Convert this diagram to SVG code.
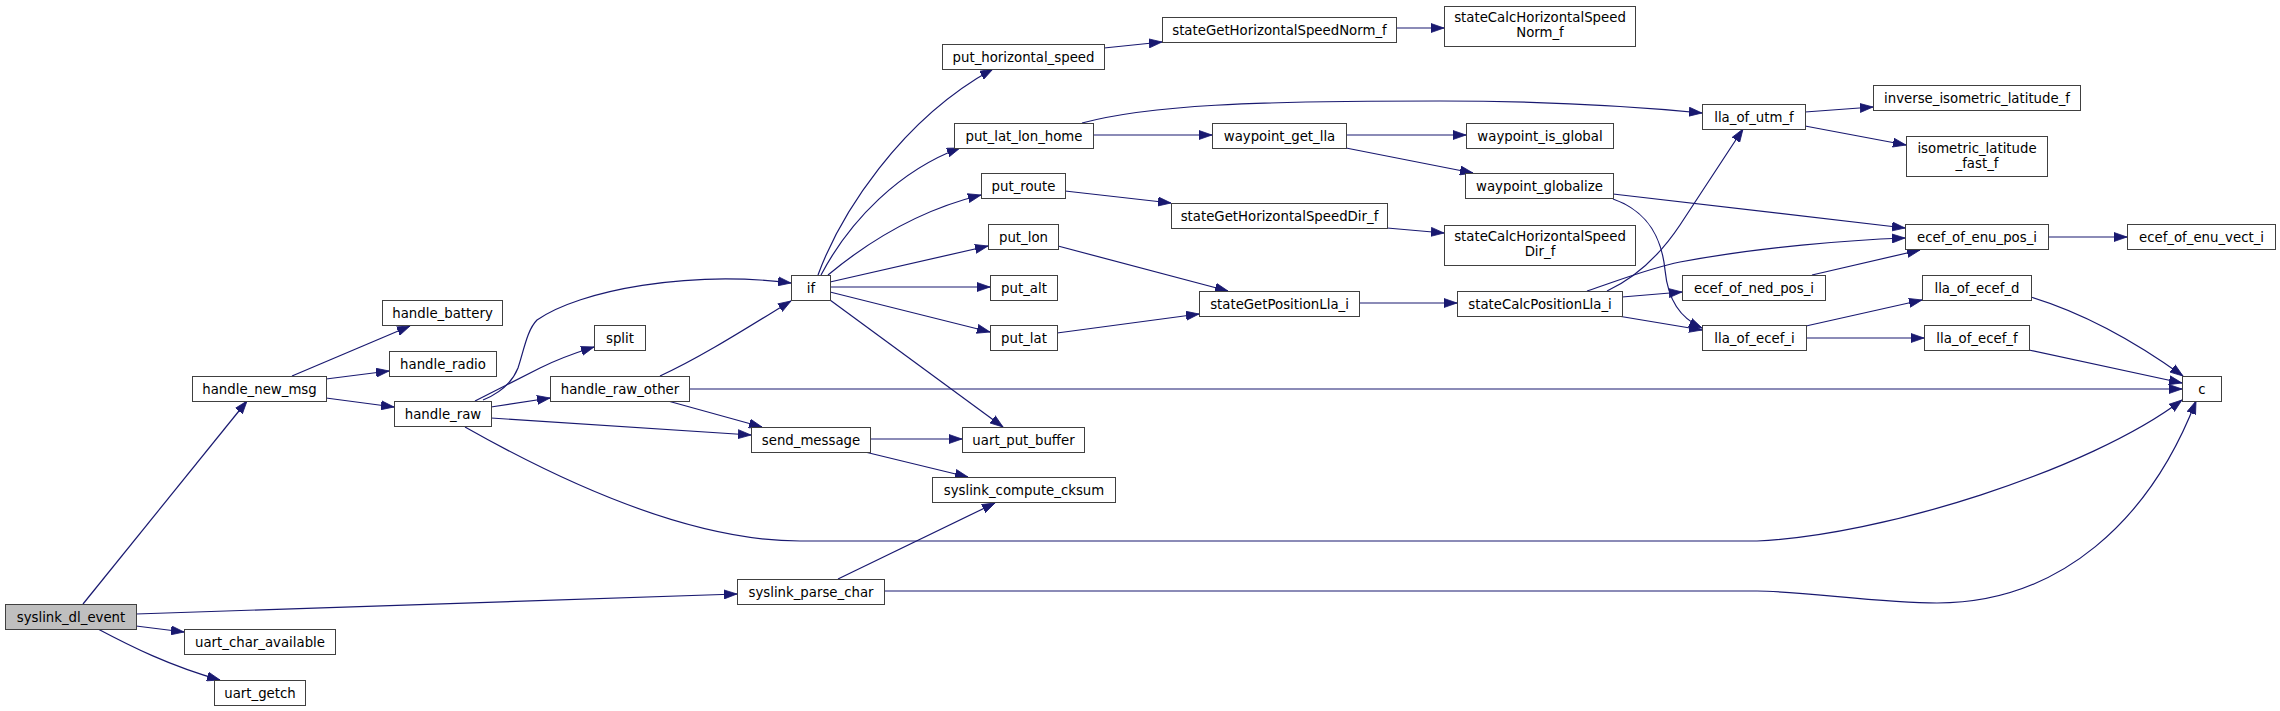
<svg xmlns="http://www.w3.org/2000/svg" width="2280" height="711" viewBox="0 0 2280 711">
<style>
.n rect{fill:#ffffff;stroke:#404040;stroke-width:1}
.n.root rect{fill:#bfbfbf}
.n text{font-family:"DejaVu Sans","Liberation Sans",sans-serif;font-size:13.3px;fill:#000;text-anchor:middle}
.e path{fill:none;stroke:#191970;stroke-width:1.2;marker-end:url(#ah)}
</style>
<defs>
<marker id="ah" markerUnits="userSpaceOnUse" markerWidth="14" markerHeight="10" refX="13" refY="4.5" orient="auto" viewBox="0 0 14 9">
<path d="M0,0 L13,4.5 L0,9 z" fill="#191970" stroke="#191970" stroke-width="0.8"/>
</marker>
</defs>
<rect width="2280" height="711" fill="#ffffff"/>
<g id="edges" class="e">
<path d="M83,604 L247,401"/>
<path d="M136,626 L184,632"/>
<path d="M98,629 C130,646 170,666 220,680"/>
<path d="M136,614 L737,594"/>
<path d="M292,376 L410,326"/>
<path d="M326,379 L389,371"/>
<path d="M326,398 L394,407"/>
<path d="M483,400 C500,393 512,383 518,368 C524,350 527,330 537,320 C580,290 690,270 791,283"/>
<path d="M475,401 C495,391 520,378 540,368 C560,358 578,352 594,347"/>
<path d="M491,407 L550,398"/>
<path d="M491,418 L751,435"/>
<path d="M465,427 C580,492 700,541 800,541 L1757,541 C1880,536 2090,470 2182,400"/>
<path d="M660,376 C700,358 750,326 791,301"/>
<path d="M668,401 L762,427"/>
<path d="M689,389 L2182,389"/>
<path d="M818,275 C840,215 900,120 993,69"/>
<path d="M821,275 C850,220 900,170 960,148"/>
<path d="M828,275 C870,240 920,210 981,195"/>
<path d="M830,282 L988,246"/>
<path d="M830,287 L990,287"/>
<path d="M830,292 L990,332"/>
<path d="M830,300 L1003,427"/>
<path d="M870,439 L962,439"/>
<path d="M865,452 L968,477"/>
<path d="M838,579 L995,503"/>
<path d="M884,591 L1757,591 C1800,591 1880,603 1937,603 C2060,603 2150,520 2196,401"/>
<path d="M1104,48 L1162,42"/>
<path d="M1396,28 L1444,28"/>
<path d="M1082,123 C1150,105 1250,101 1440,101 C1550,101 1640,107 1702,113"/>
<path d="M1093,135 L1212,135"/>
<path d="M1065,191 L1171,203"/>
<path d="M1058,246 L1228,291"/>
<path d="M1057,333 L1199,314"/>
<path d="M1346,135 L1466,135"/>
<path d="M1346,148 L1473,173"/>
<path d="M1387,228 L1444,233"/>
<path d="M1359,303 L1457,303"/>
<path d="M1607,291 C1635,278 1660,255 1680,225 L1743,129"/>
<path d="M1587,291 C1620,280 1650,268 1680,262 C1760,247 1850,240 1905,238"/>
<path d="M1622,297 L1682,292"/>
<path d="M1618,316 L1702,330"/>
<path d="M1613,194 L1905,228"/>
<path d="M1613,199 C1650,212 1662,240 1665,270 C1668,300 1680,318 1702,328"/>
<path d="M1805,112 L1873,107"/>
<path d="M1805,126 L1906,145"/>
<path d="M1812,275 L1920,250"/>
<path d="M1806,326 L1922,300"/>
<path d="M1806,338 L1924,338"/>
<path d="M2048,237 L2127,237"/>
<path d="M2031,297 C2090,315 2140,345 2183,376"/>
<path d="M2029,350 L2182,383"/>
</g>
<g id="syslink_dl_event" class="n root"><rect x="5.5" y="604.5" width="131" height="25"/><text x="71" y="621.5">syslink_dl_event</text></g>
<g id="handle_new_msg" class="n"><rect x="192.5" y="376.5" width="134" height="25"/><text x="259.5" y="393.5">handle_new_msg</text></g>
<g id="handle_battery" class="n"><rect x="382.5" y="300.5" width="120" height="25"/><text x="442.5" y="317.5">handle_battery</text></g>
<g id="handle_radio" class="n"><rect x="389.5" y="351.5" width="107" height="25"/><text x="443" y="368.5">handle_radio</text></g>
<g id="handle_raw" class="n"><rect x="394.5" y="401.5" width="97" height="25"/><text x="443" y="418.5">handle_raw</text></g>
<g id="uart_char_available" class="n"><rect x="184.5" y="629.5" width="151" height="25"/><text x="260" y="646.5">uart_char_available</text></g>
<g id="uart_getch" class="n"><rect x="214.5" y="680.5" width="91" height="25"/><text x="260" y="697.5">uart_getch</text></g>
<g id="split" class="n"><rect x="594.5" y="325.5" width="51" height="25"/><text x="620" y="342.5">split</text></g>
<g id="handle_raw_other" class="n"><rect x="550.5" y="376.5" width="139" height="25"/><text x="620" y="393.5">handle_raw_other</text></g>
<g id="if" class="n"><rect x="791.5" y="275.5" width="39" height="25"/><text x="811" y="292.5">if</text></g>
<g id="send_message" class="n"><rect x="751.5" y="427.5" width="119" height="25"/><text x="811" y="444.5">send_message</text></g>
<g id="syslink_parse_char" class="n"><rect x="737.5" y="579.5" width="147" height="25"/><text x="811" y="596.5">syslink_parse_char</text></g>
<g id="uart_put_buffer" class="n"><rect x="962.5" y="427.5" width="122" height="25"/><text x="1023.5" y="444.5">uart_put_buffer</text></g>
<g id="syslink_compute_cksum" class="n"><rect x="932.5" y="477.5" width="183" height="25"/><text x="1024" y="494.5">syslink_compute_cksum</text></g>
<g id="put_horizontal_speed" class="n"><rect x="942.5" y="44.5" width="162" height="25"/><text x="1023.5" y="61.5">put_horizontal_speed</text></g>
<g id="put_lat_lon_home" class="n"><rect x="954.5" y="123.5" width="139" height="25"/><text x="1024" y="140.5">put_lat_lon_home</text></g>
<g id="put_route" class="n"><rect x="981.5" y="173.5" width="84" height="25"/><text x="1023.5" y="190.5">put_route</text></g>
<g id="put_lon" class="n"><rect x="988.5" y="224.5" width="70" height="25"/><text x="1023.5" y="241.5">put_lon</text></g>
<g id="put_alt" class="n"><rect x="990.5" y="275.5" width="67" height="25"/><text x="1024" y="292.5">put_alt</text></g>
<g id="put_lat" class="n"><rect x="990.5" y="325.5" width="67" height="25"/><text x="1024" y="342.5">put_lat</text></g>
<g id="stateGetHorizontalSpeedNorm_f" class="n"><rect x="1162.5" y="17.5" width="234" height="25"/><text x="1279.5" y="34.5">stateGetHorizontalSpeedNorm_f</text></g>
<g id="waypoint_get_lla" class="n"><rect x="1212.5" y="123.5" width="134" height="25"/><text x="1279.5" y="140.5">waypoint_get_lla</text></g>
<g id="stateGetHorizontalSpeedDir_f" class="n"><rect x="1171.5" y="203.5" width="216" height="25"/><text x="1279.5" y="220.5">stateGetHorizontalSpeedDir_f</text></g>
<g id="stateGetPositionLla_i" class="n"><rect x="1199.5" y="291.5" width="160" height="25"/><text x="1279.5" y="308.5">stateGetPositionLla_i</text></g>
<g id="stateCalcHorizontalSpeedNorm_f" class="n"><rect x="1444.5" y="6.5" width="191" height="40"/><text x="1540" y="22">stateCalcHorizontalSpeed</text><text x="1540" y="37">Norm_f</text></g>
<g id="waypoint_is_global" class="n"><rect x="1466.5" y="123.5" width="147" height="25"/><text x="1540" y="140.5">waypoint_is_global</text></g>
<g id="waypoint_globalize" class="n"><rect x="1465.5" y="173.5" width="148" height="25"/><text x="1539.5" y="190.5">waypoint_globalize</text></g>
<g id="stateCalcHorizontalSpeedDir_f" class="n"><rect x="1444.5" y="225.5" width="191" height="40"/><text x="1540" y="241">stateCalcHorizontalSpeed</text><text x="1540" y="256">Dir_f</text></g>
<g id="stateCalcPositionLla_i" class="n"><rect x="1457.5" y="291.5" width="165" height="25"/><text x="1540" y="308.5">stateCalcPositionLla_i</text></g>
<g id="lla_of_utm_f" class="n"><rect x="1702.5" y="104.5" width="103" height="25"/><text x="1754" y="121.5">lla_of_utm_f</text></g>
<g id="ecef_of_ned_pos_i" class="n"><rect x="1682.5" y="275.5" width="143" height="25"/><text x="1754" y="292.5">ecef_of_ned_pos_i</text></g>
<g id="lla_of_ecef_i" class="n"><rect x="1702.5" y="325.5" width="104" height="25"/><text x="1754.5" y="342.5">lla_of_ecef_i</text></g>
<g id="inverse_isometric_latitude_f" class="n"><rect x="1873.5" y="85.5" width="207" height="25"/><text x="1977" y="102.5">inverse_isometric_latitude_f</text></g>
<g id="isometric_latitude_fast_f" class="n"><rect x="1906.5" y="136.5" width="141" height="40"/><text x="1977" y="153">isometric_latitude</text><text x="1977" y="168">_fast_f</text></g>
<g id="ecef_of_enu_pos_i" class="n"><rect x="1905.5" y="224.5" width="143" height="25"/><text x="1977" y="241.5">ecef_of_enu_pos_i</text></g>
<g id="ecef_of_enu_vect_i" class="n"><rect x="2127.5" y="224.5" width="148" height="25"/><text x="2201.5" y="241.5">ecef_of_enu_vect_i</text></g>
<g id="lla_of_ecef_d" class="n"><rect x="1922.5" y="275.5" width="109" height="25"/><text x="1977" y="292.5">lla_of_ecef_d</text></g>
<g id="lla_of_ecef_f" class="n"><rect x="1924.5" y="325.5" width="105" height="25"/><text x="1977" y="342.5">lla_of_ecef_f</text></g>
<g id="c" class="n"><rect x="2182.5" y="376.5" width="39" height="25"/><text x="2202" y="393.5">c</text></g>
</svg>
